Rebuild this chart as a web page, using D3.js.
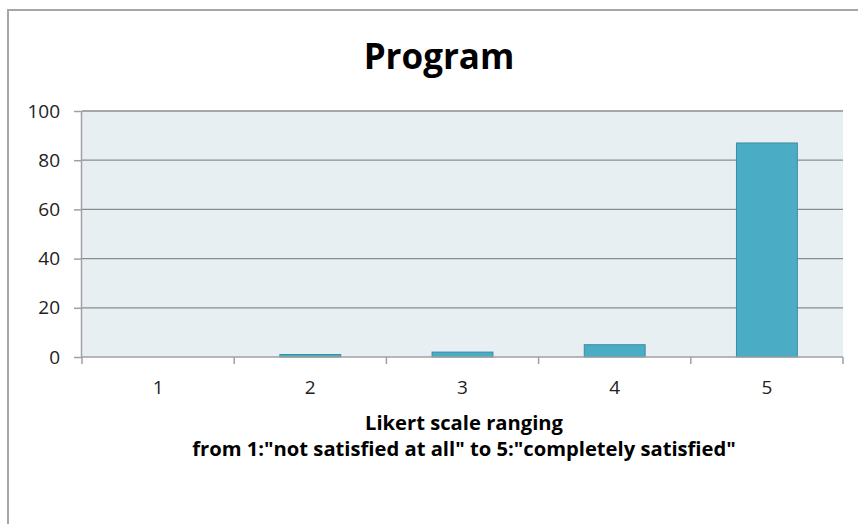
<!DOCTYPE html>
<html>
<head>
<meta charset="utf-8">
<script src="https://cdn.jsdelivr.net/npm/d3@7"></script>
<style>
  html, body { margin: 0; padding: 0; background: #fff; }
  svg { display: block; }
</style>
</head>
<body>
<svg id="chart" width="858" height="524"></svg>
<script>
const title = "Program";
const categories = ["1", "2", "3", "4", "5"];
const values = [0, 1, 2, 5, 87];
const yTicks = [0, 20, 40, 60, 80, 100];
const xTitleLines = ["Likert scale ranging", "from 1:\"not satisfied at all\" to 5:\"completely satisfied\""];

const svg = d3.select("#chart");
const W = 858, H = 524;
const m = { left: 82, right: 15, top: 111, bottom: 167 };
const pw = W - m.left - m.right, ph = H - m.top - m.bottom;
const font = "'Open Sans', sans-serif";

// outer frame
svg.append("rect").attr("x", 8).attr("y", 10).attr("width", 860).attr("height", 530)
  .attr("fill", "#fff").attr("stroke", "#a6a6a6").attr("stroke-width", 2);

const x = d3.scaleBand().domain(categories).range([0, pw]).paddingInner(0.6).paddingOuter(0.3);
const y = d3.scaleLinear().domain([0, 100]).range([ph, 0]);

const g = svg.append("g").attr("transform", `translate(${m.left},${m.top})`);

g.append("rect").attr("width", pw).attr("height", ph).attr("fill", "#e8eff3");

// gridlines
g.append("g").selectAll("line").data(yTicks.filter(d => d > 0)).join("line")
  .attr("x1", 0).attr("x2", pw).attr("y1", d => y(d)).attr("y2", d => y(d))
  .attr("stroke", "#8c8c8c").attr("stroke-width", 1.3);

// bars
g.append("g").selectAll("rect").data(categories).join("rect")
  .attr("x", d => x(d)).attr("width", x.bandwidth())
  .attr("y", (d, i) => y(values[i])).attr("height", (d, i) => ph - y(values[i]))
  .attr("fill", "#4bacc6").attr("stroke", "#3a8ca3").attr("stroke-width", 1);

// y axis
const ya = g.append("g").call(d3.axisLeft(y).tickValues(yTicks).tickSize(8).tickPadding(14));
ya.select(".domain").attr("stroke", "#a0a0a0").attr("stroke-width", 1.5).attr("d", `M-0.5,${ph}V0`);
ya.selectAll(".tick line").attr("stroke", "#a0a0a0").attr("stroke-width", 1.5);
ya.selectAll(".tick text").attr("font-family", font).attr("font-size", 19).attr("fill", "#222");

// x axis with ticks at band boundaries
const xa = g.append("g").attr("transform", `translate(0,${ph})`)
  .call(d3.axisBottom(x).tickSize(0).tickPadding(24));
xa.select(".domain").attr("stroke", "#a0a0a0").attr("stroke-width", 1.5).attr("d", `M0,0H${pw}`);
xa.selectAll(".tick text").attr("font-family", font).attr("font-size", 19).attr("fill", "#222");
const bounds = d3.range(categories.length + 1).map(i => i * pw / categories.length);
xa.append("g").selectAll("line").data(bounds).join("line")
  .attr("x1", d => d).attr("x2", d => d).attr("y1", 0).attr("y2", 7)
  .attr("stroke", "#a0a0a0").attr("stroke-width", 1.5);

// title
svg.append("text").attr("x", 439).attr("y", 69).attr("text-anchor", "middle")
  .attr("font-family", font).attr("font-weight", "bold").attr("font-size", 35).attr("fill", "#000")
  .text(title);

// x title
svg.append("g").selectAll("text").data(xTitleLines).join("text")
  .attr("x", 464).attr("y", (d, i) => 430 + i * 26).attr("text-anchor", "middle")
  .attr("font-family", font).attr("font-weight", "bold").attr("font-size", 20.2).attr("fill", "#000")
  .text(d => d);
</script>
</body>
</html>
